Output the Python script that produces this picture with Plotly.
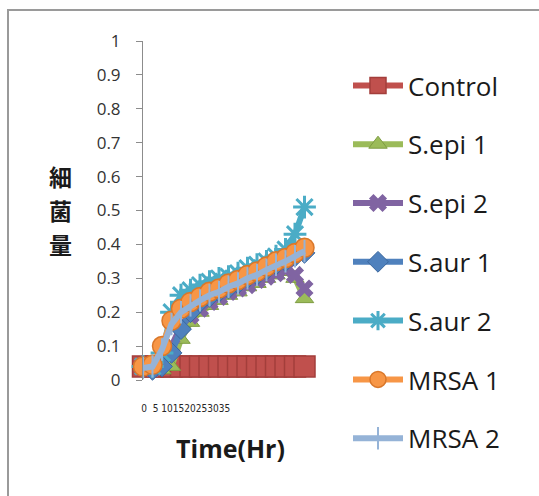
import plotly.graph_objects as go

# Sampling times (hours) and bacterial load readings per culture
time_hr = [0, 2, 4, 6, 8, 10, 12, 14, 16, 18, 20, 22, 24, 26, 28, 30, 32, 34]

control = [0.04, 0.04, 0.04, 0.04, 0.04, 0.04, 0.04, 0.04, 0.04,
           0.04, 0.04, 0.04, 0.04, 0.04, 0.04, 0.04, 0.04, 0.04]
s_epi_1 = [0.04, 0.03, 0.03, 0.04, 0.12, 0.17, 0.20, 0.22, 0.235,
           0.25, 0.26, 0.275, 0.285, 0.30, 0.31, 0.32, 0.30, 0.24]
s_epi_2 = [0.04, 0.035, 0.05, 0.10, 0.16, 0.19, 0.21, 0.23, 0.245,
           0.26, 0.27, 0.28, 0.295, 0.305, 0.315, 0.325, 0.31, 0.27]
s_aur_1 = [0.04, 0.03, 0.04, 0.08, 0.15, 0.20, 0.23, 0.245, 0.26,
           0.27, 0.285, 0.30, 0.31, 0.325, 0.34, 0.35, 0.365, 0.375]
s_aur_2 = [0.04, 0.04, 0.08, 0.20, 0.25, 0.265, 0.28, 0.29, 0.30,
           0.305, 0.315, 0.33, 0.34, 0.35, 0.365, 0.385, 0.43, 0.51]
mrsa_1 = [0.04, 0.045, 0.10, 0.175, 0.21, 0.23, 0.245, 0.26, 0.27,
          0.285, 0.295, 0.31, 0.32, 0.335, 0.35, 0.36, 0.375, 0.39]
mrsa_2 = [0.035, 0.04, 0.09, 0.165, 0.20, 0.22, 0.235, 0.25, 0.26,
          0.275, 0.285, 0.30, 0.31, 0.325, 0.34, 0.35, 0.365, 0.38]

series_names = ["Control", "S.epi 1", "S.epi 2", "S.aur 1", "S.aur 2", "MRSA 1", "MRSA 2"]
series_values = [control, s_epi_1, s_epi_2, s_aur_1, s_aur_2, mrsa_1, mrsa_2]

time_ticks = [0, 5, 10, 15, 20, 25, 30, 35]
y_ticks = [0, 0.1, 0.2, 0.3, 0.4, 0.5, 0.6, 0.7, 0.8, 0.9, 1]

# vertical y-axis title, one character per row
y_title_chars = ["細", "菌", "量"]

# Office-style series colours and marker shapes
styles = [
    dict(color="#C0504D", edge="#A33E3B", symbol="square", size=21, lw=1.5),
    dict(color="#9BBB59", edge="#7E9C42", symbol="triangle-up", size=16, lw=1),
    dict(color="#8064A2", edge="#8064A2", symbol="x", size=16, lw=0),
    dict(color="#4F81BD", edge="#3A679E", symbol="diamond", size=16, lw=1),
    dict(color="#4BACC6", edge="#4BACC6", symbol="asterisk-open", size=19, lw=3),
    dict(color="#F79646", edge="#D9772A", symbol="circle", size=19, lw=1.5),
    dict(color="#95B3D7", edge="#95B3D7", symbol="line-ns-open", size=16, lw=2),
]

W, H = 539, 496
PL, PR, PT, PB = 143, 318, 41, 380          # plot area in pixels
pw, ph = PR - PL, PB - PT
last_px = 304.5                             # pixel where the last sample sits
x_max = time_hr[-1] * pw / (last_px - PL)


def px_x(p):
    return (p - PL) / pw


def px_y(p):
    return (PB - p) / ph


fig = go.Figure()
for i, (name, vals, st) in enumerate(zip(series_names, series_values, styles)):
    fig.add_trace(go.Scatter(
        x=time_hr, y=vals, name=name, mode="lines+markers",
        legendgroup=f"g{i}",
        line=dict(color=st["color"], width=6),
        marker=dict(symbol=st["symbol"], size=st["size"], color=st["color"],
                    line=dict(color=st["edge"], width=st["lw"])),
        cliponaxis=False,
    ))

# companion axis that carries the hour labels
fig.add_trace(go.Scatter(x=[], y=[], xaxis="x2", yaxis="y",
                         showlegend=False, hoverinfo="skip"))

title_row_gap = 34
title_annotations = [
    dict(text=ch, x=px_x(60), y=px_y(210 + (k - 1) * title_row_gap),
         xref="paper", yref="paper", xanchor="center", yanchor="middle",
         showarrow=False,
         font=dict(family="Noto Sans CJK JP", size=23, weight="bold",
                   color="#1a1a1a"))
    for k, ch in enumerate(y_title_chars)
]

fig.update_layout(
    width=W, height=H,
    margin=dict(l=PL, r=W - PR, t=PT, b=H - PB),
    paper_bgcolor="white", plot_bgcolor="rgba(0,0,0,0)",
    font=dict(family="Open Sans, sans-serif", color="#262626"),
    xaxis=dict(range=[0, x_max], showticklabels=False, showgrid=False,
               zeroline=False, showline=False, ticks="",
               title=dict(text="Time(Hr)", standoff=60,
                          font=dict(family="Open Sans", size=25, weight="bold",
                                    color="#1a1a1a"))),
    xaxis2=dict(anchor="y", domain=[px_x(144), px_x(224.5)], range=[0, 35],
                tickmode="array", tickvals=time_ticks,
                ticktext=[str(t) for t in time_ticks], tickangle=0,
                ticks="outside", ticklen=19, tickcolor="rgba(0,0,0,0)",
                showgrid=False, zeroline=False, showline=False,
                tickfont=dict(family="Liberation Sans Narrow, DejaVu Sans Condensed, sans-serif",
                              size=10, color="#262626")),
    yaxis=dict(range=[0, 1], tickmode="array", tickvals=y_ticks,
               ticktext=[f"{v:g}" for v in y_ticks],
               showgrid=False, zeroline=False, showline=True,
               linecolor="#8c8c8c", linewidth=1,
               ticks="outside", ticklen=6, tickcolor="#8c8c8c",
               ticklabelstandoff=12,
               tickfont=dict(family="Open Sans", size=17, color="#333333")),
    legend=dict(x=px_x(348), y=px_y(62), xanchor="left", yanchor="top",
                traceorder="grouped", tracegroupgap=22, maxheight=470,
                font=dict(family="Open Sans", size=26, color="#1a1a1a"),
                bgcolor="rgba(0,0,0,0)", itemwidth=50),
    annotations=title_annotations,
    shapes=[dict(type="rect", xref="paper", yref="paper",
                 x0=px_x(8), x1=px_x(600), y0=px_y(600), y1=px_y(10),
                 line=dict(color="#9a9a9a", width=2), layer="below")],
)

fig.write_html("out.html")
